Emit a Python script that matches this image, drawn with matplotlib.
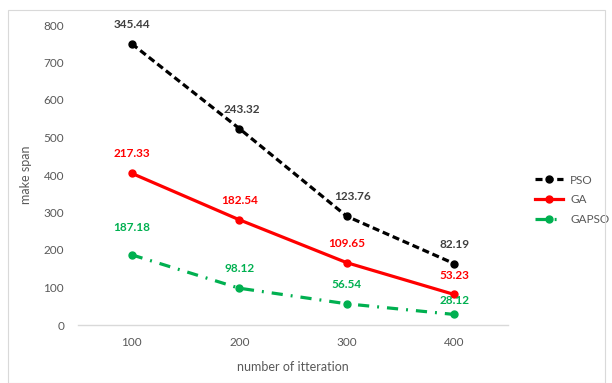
import numpy as np
import matplotlib
matplotlib.use("Agg")
import matplotlib.pyplot as plt
from matplotlib.patches import Rectangle

plt.rcParams["font.family"] = ["Lato", "DejaVu Sans"]

# make span per algorithm, plotted as a stacked line chart
iterations = ["100", "200", "300", "400"]
gapso = [187.18, 98.12, 56.54, 28.12]
ga = [217.33, 182.54, 109.65, 53.23]
pso = [345.44, 243.32, 123.76, 82.19]

fig = plt.figure(figsize=(6.12, 3.83), dpi=100)
fig.patches.append(Rectangle((8 / 612, 0), 597 / 612, 373 / 383, transform=fig.transFigure,
                             fill=False, edgecolor="#d9d9d9", linewidth=0.8))
ax = fig.add_axes([78 / 612, 58 / 383, 430 / 612, 300 / 383])

x = np.arange(len(iterations))
s_gapso = np.array(gapso)
s_ga = s_gapso + np.array(ga)
s_pso = s_ga + np.array(pso)

series = [
    ("PSO", pso, s_pso, "black", (0, (2.2, 1.2)), "#404040"),
    ("GA", ga, s_ga, "#ff0000", "-", "#ff0000"),
    ("GAPSO", gapso, s_gapso, "#00b050", (0, (3.5, 2.5, 0.6, 2.5)), "#00b050"),
]

# label offsets in points (dx, dy) so labels do not sit on the lines
offsets = {
    "PSO": [(0, 10), (2, 10), (4, 10), (0, 10)],
    "GA": [(0, 10), (0, 10), (0, 10), (0, 10)],
    "GAPSO": [(0, 16), (0, 10), (0, 10), (0, 6)],
}

for name, vals, ys, col, ls, tcol in series:
    ax.plot(x, ys, color=col, linestyle=ls, linewidth=2.3, marker="o",
            markersize=5, label=name, clip_on=False)
    for i, (v, y) in enumerate(zip(vals, ys)):
        dx, dy = offsets[name][i]
        ax.annotate(f"{v:.2f}", (x[i], y), xytext=(dx, dy), textcoords="offset points",
                    ha="center", va="bottom", fontsize=8.5, fontweight="bold",
                    color=tcol, annotation_clip=False)

ax.set_xlim(-0.5, 3.5)
ax.set_ylim(0, 800)
ax.set_xticks(x)
ax.set_xticklabels(iterations)
ax.set_yticks(np.arange(0, 801, 100))
for s in ["top", "right", "left"]:
    ax.spines[s].set_visible(False)
ax.spines["bottom"].set_color("#d9d9d9")
ax.spines["bottom"].set_linewidth(1.0)
ax.tick_params(axis="both", length=0, labelsize=8.5, labelcolor="#595959")
ax.tick_params(axis="x", pad=9)
ax.tick_params(axis="y", pad=10)

ax.set_xlabel("number of itteration", fontsize=9, color="#595959", labelpad=9)
ax.set_ylabel("make span", fontsize=9, color="#595959", labelpad=8)

ax.legend(loc="upper left", bbox_to_anchor=(524 / 612, 1 - 164 / 383),
          bbox_transform=fig.transFigure, frameon=False, fontsize=8.5,
          handlelength=2.4, handletextpad=0.6, labelspacing=0.75, numpoints=1,
          labelcolor="#595959")

fig.savefig("out.png", dpi=100)
